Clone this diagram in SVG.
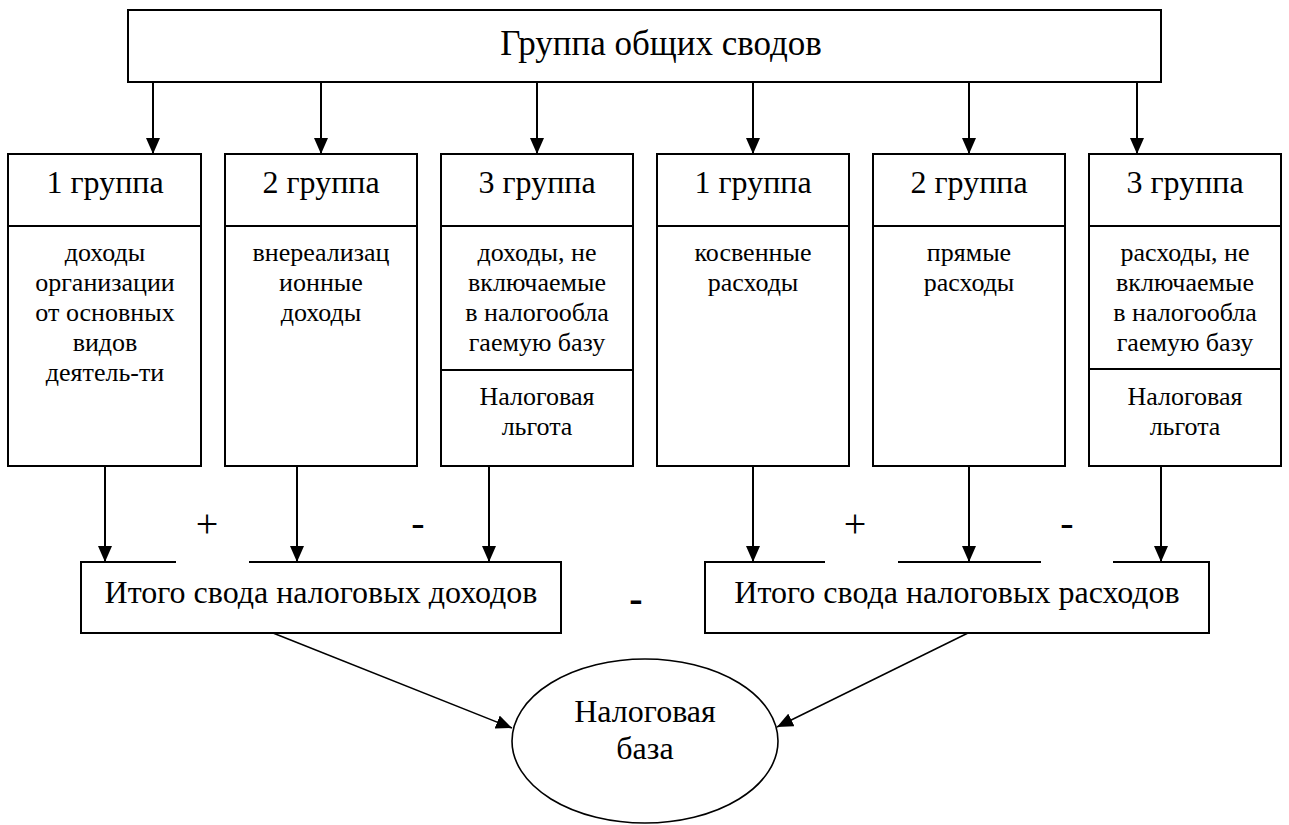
<svg xmlns="http://www.w3.org/2000/svg" width="1289" height="825" viewBox="0 0 1289 825">
<defs>
<marker id="arr" viewBox="0 0 16 14" refX="16" refY="7" markerWidth="16" markerHeight="14" markerUnits="userSpaceOnUse" orient="auto">
<path d="M0,0 L16,7 L0,14 z" fill="#000"/>
</marker>
<style>
.box{fill:#fff;stroke:#000;stroke-width:2}
.div{stroke:#000;stroke-width:2}
.ell{fill:#fff;stroke:#000;stroke-width:1.6}
.con{stroke:#000;stroke-width:2;fill:none;marker-end:url(#arr)}
.dia{stroke:#000;stroke-width:1.5;fill:none;marker-end:url(#arr)}
.gap{fill:#fff;stroke:none}
text{fill:#000;text-anchor:middle;font-family:'Liberation Serif','Times New Roman',serif}
.ti{font-size:35px}
.hd{font-size:32px}
.tx{font-size:26px}
.sg{font-size:40px}
.bm{font-size:40px;font-weight:bold}
</style>
</defs>

<g id="connectors">
<line class="con" x1="153" y1="82" x2="153" y2="154"/>
<line class="con" x1="321" y1="82" x2="321" y2="154"/>
<line class="con" x1="537" y1="82" x2="537" y2="154"/>
<line class="con" x1="753" y1="82" x2="753" y2="154"/>
<line class="con" x1="969" y1="82" x2="969" y2="154"/>
<line class="con" x1="1137" y1="82" x2="1137" y2="154"/>
<line class="con" x1="105" y1="466" x2="105" y2="562"/>
<line class="con" x1="297" y1="466" x2="297" y2="562"/>
<line class="con" x1="489" y1="466" x2="489" y2="562"/>
<line class="con" x1="753" y1="466" x2="753" y2="562"/>
<line class="con" x1="969" y1="466" x2="969" y2="562"/>
<line class="con" x1="1161" y1="466" x2="1161" y2="562"/>
<line class="dia" x1="273" y1="633" x2="512" y2="728"/>
<line class="dia" x1="968" y1="633" x2="777" y2="727"/>
</g>

<g id="top">
<rect class="box" x="128" y="10" width="1033" height="72"/>
<text class="ti" x="661" y="55">Группа общих сводов</text>
</g>

<g id="inc1">
<rect class="box" x="8" y="154" width="193" height="312"/>
<line class="div" x1="8" y1="226" x2="201" y2="226"/>
<text class="hd" x="105" y="193">1 группа</text>
<text class="tx" x="105" y="261">доходы</text>
<text class="tx" x="105" y="291">организации</text>
<text class="tx" x="105" y="321">от основных</text>
<text class="tx" x="105" y="351">видов</text>
<text class="tx" x="105" y="381">деятель-ти</text>
</g>

<g id="inc2">
<rect class="box" x="225" y="154" width="192" height="312"/>
<line class="div" x1="225" y1="226" x2="417" y2="226"/>
<text class="hd" x="321" y="193">2 группа</text>
<text class="tx" x="321" y="261">внереализац</text>
<text class="tx" x="321" y="291">ионные</text>
<text class="tx" x="321" y="321">доходы</text>
</g>

<g id="inc3">
<rect class="box" x="441" y="154" width="192" height="312"/>
<line class="div" x1="441" y1="226" x2="633" y2="226"/>
<line class="div" x1="441" y1="370" x2="633" y2="370"/>
<text class="hd" x="537" y="193">3 группа</text>
<text class="tx" x="537" y="261">доходы, не</text>
<text class="tx" x="537" y="291">включаемые</text>
<text class="tx" x="537" y="321">в налогообла</text>
<text class="tx" x="537" y="351">гаемую базу</text>
<text class="tx" x="537" y="405">Налоговая</text>
<text class="tx" x="537" y="435">льгота</text>
</g>

<g id="exp1">
<rect class="box" x="657" y="154" width="192" height="312"/>
<line class="div" x1="657" y1="226" x2="849" y2="226"/>
<text class="hd" x="753" y="193">1 группа</text>
<text class="tx" x="753" y="261">косвенные</text>
<text class="tx" x="753" y="291">расходы</text>
</g>

<g id="exp2">
<rect class="box" x="873" y="154" width="192" height="312"/>
<line class="div" x1="873" y1="226" x2="1065" y2="226"/>
<text class="hd" x="969" y="193">2 группа</text>
<text class="tx" x="969" y="261">прямые</text>
<text class="tx" x="969" y="291">расходы</text>
</g>

<g id="exp3">
<rect class="box" x="1089" y="154" width="192" height="312"/>
<line class="div" x1="1089" y1="226" x2="1281" y2="226"/>
<line class="div" x1="1089" y1="369" x2="1281" y2="369"/>
<text class="hd" x="1185" y="193">3 группа</text>
<text class="tx" x="1185" y="261">расходы, не</text>
<text class="tx" x="1185" y="291">включаемые</text>
<text class="tx" x="1185" y="321">в налогообла</text>
<text class="tx" x="1185" y="351">гаемую базу</text>
<text class="tx" x="1185" y="405">Налоговая</text>
<text class="tx" x="1185" y="435">льгота</text>
</g>

<g id="sumInc">
<rect class="box" x="81" y="562" width="480" height="71"/>
<text class="hd" x="321" y="603">Итого свода налоговых доходов</text>
</g>

<g id="sumExp">
<rect class="box" x="705" y="562" width="504" height="71"/>
<text class="hd" x="957" y="603">Итого свода налоговых расходов</text>
</g>

<g id="base">
<ellipse class="ell" cx="645" cy="741" rx="133" ry="82"/>
<text class="hd" x="645" y="722">Налоговая</text>
<text class="hd" x="645" y="759">база</text>
</g>

<g id="labels">
<rect class="gap" x="176" y="505" width="73" height="58"/>
<text class="sg" x="207" y="537">+</text>
<text class="sg" x="418" y="536">-</text>
<rect class="gap" x="825" y="505" width="73" height="58"/>
<text class="sg" x="855" y="537">+</text>
<rect class="gap" x="1041" y="505" width="72" height="58"/>
<text class="sg" x="1067" y="536">-</text>
<text class="bm" x="636" y="612">-</text>
</g>
</svg>
